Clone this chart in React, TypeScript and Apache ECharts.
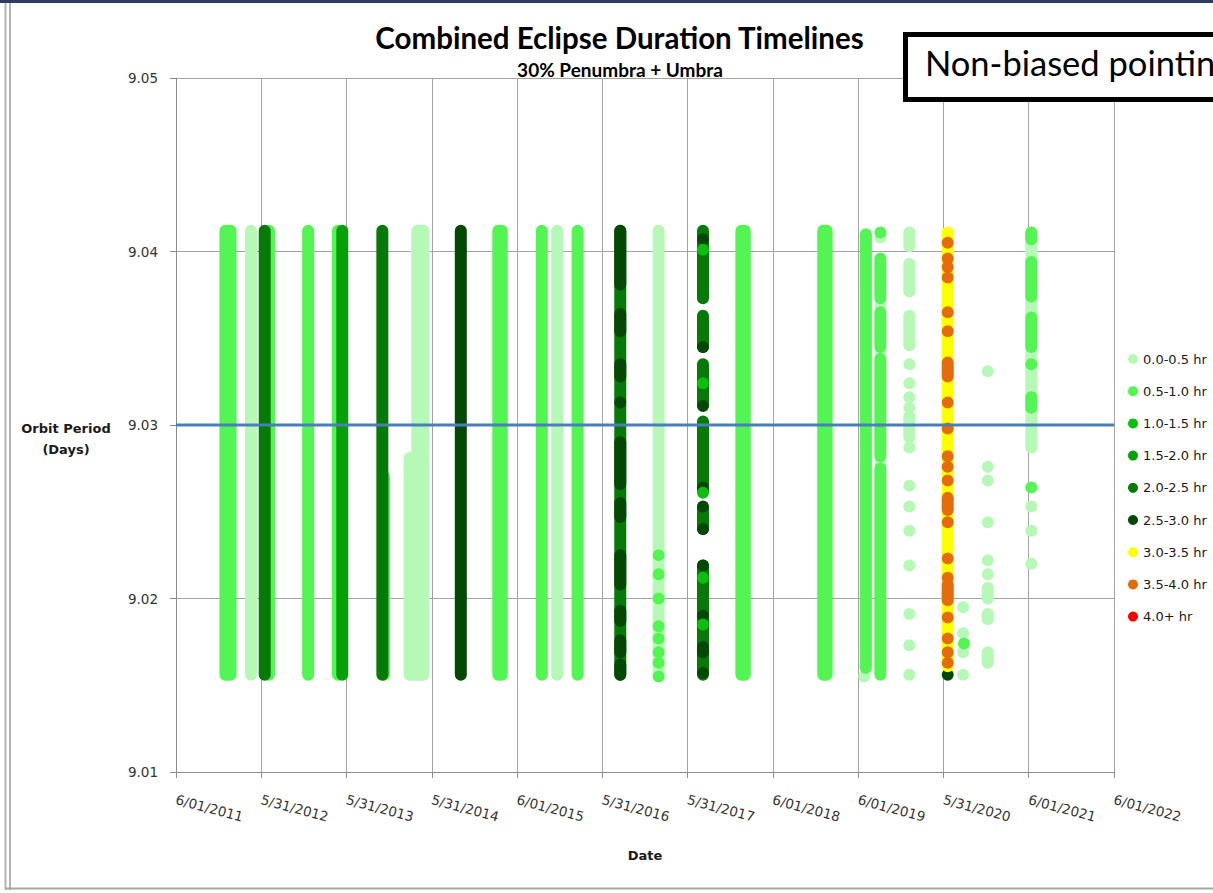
import React, { useEffect, useRef } from "react";
import * as echarts from "echarts";

// ---------- data ----------
const dateLabels = [
  "6/01/2011", "5/31/2012", "5/31/2013", "5/31/2014", "6/01/2015", "5/31/2016",
  "5/31/2017", "6/01/2018", "6/01/2019", "5/31/2020", "6/01/2021", "6/01/2022",
];
const categories = [
  "0.0-0.5 hr", "0.5-1.0 hr", "1.0-1.5 hr", "1.5-2.0 hr", "2.0-2.5 hr",
  "2.5-3.0 hr", "3.0-3.5 hr", "3.5-4.0 hr", "4.0+ hr",
];
const categoryColors = [
  "#b6f8b6", "#52f552", "#0cbf0c", "#08a008", "#067a06",
  "#034803", "#ffff00", "#e46c0a", "#ff0000",
];
const yMin = 9.01;
const yMax = 9.05;
const yStep = 0.01;
const xMin = 0;
const xMax = 11;
const nominalPeriod = 9.03;

const TOP = 9.0412;
const BOT = 9.0156;

// entries: [x, y] dot | [x, yLo, yHi] run | [x0, x1, yLo, yHi] wide run
// x in years after 6/01/2011
const hr00_05 = [
  [0.88, BOT, TOP],
  [2.83, 2.9, 9.0281, TOP],
  [2.74, 2.9, BOT, 9.0281],
  [4.47, BOT, TOP],
  [5.66, BOT, TOP],
  [8.07, 9.0155],
  [8.26, 9.0408], [8.26, 9.0369], [8.26, 9.0342], [8.26, 9.0278],
  [8.6, 9.0403, 9.0411], [8.6, 9.0377, 9.0393], [8.6, 9.0346, 9.0363],
  [8.6, 9.0335], [8.6, 9.0324], [8.6, 9.0316], [8.6, 9.031],
  [8.6, 9.0293, 9.0305], [8.6, 9.0287], [8.6, 9.0265], [8.6, 9.0253],
  [8.6, 9.0239], [8.6, 9.0219], [8.6, 9.0191], [8.6, 9.0173], [8.6, 9.0156],
  [9.23, 9.0195], [9.23, 9.018], [9.23, 9.0169], [9.23, 9.0156],
  [9.52, 9.0331], [9.52, 9.0276], [9.52, 9.0268], [9.52, 9.0244],
  [9.52, 9.0222], [9.52, 9.0214], [9.52, 9.02, 9.0206], [9.52, 9.0188, 9.0191],
  [9.52, 9.0163, 9.0169],
  [10.03, 9.0287, 9.0411], [10.03, 9.0253], [10.03, 9.0239], [10.03, 9.022],
];
const hr05_10 = [
  [0.58, 0.64, BOT, TOP],
  [1.09, BOT, TOP],
  [1.55, BOT, TOP],
  [1.9, BOT, TOP],
  [2.44, BOT, 9.027],
  [3.78, 3.82, BOT, TOP],
  [4.29, BOT, TOP],
  [4.71, BOT, TOP],
  [5.66, 9.0225], [5.66, 9.0214], [5.66, 9.02], [5.66, 9.0184],
  [5.66, 9.0177], [5.66, 9.0169], [5.66, 9.0163], [5.66, 9.0155],
  [6.63, 6.67, BOT, TOP],
  [7.59, 7.63, BOT, TOP],
  [8.09, 9.016, 9.041],
  [8.26, 9.0411], [8.26, 9.0373, 9.0396], [8.26, 9.0345, 9.0365],
  [8.26, 9.0282, 9.0338], [8.26, BOT, 9.0275],
  [9.24, 9.0174],
  [10.03, 9.0407, 9.0411], [10.03, 9.0374, 9.0394], [10.03, 9.0345, 9.0362],
  [10.03, 9.0335], [10.03, 9.031, 9.0316], [10.03, 9.0264],
];
const hr10_15 = [
  [6.18, 9.0401], [6.18, 9.0324], [6.18, 9.0261], [6.18, 9.0212], [6.18, 9.0185],
];
const hr15_20 = [
  [1.95, BOT, TOP],
];
const hr20_25 = [
  [1.04, BOT, TOP],
  [2.42, BOT, TOP],
  [5.21, BOT, TOP],
  [6.18, 9.0373, TOP], [6.18, 9.0345, 9.0363], [6.18, 9.0312, 9.0335],
  [6.18, 9.0262, 9.0302], [6.18, 9.024, 9.0252], [6.18, BOT, 9.0219],
];
const hr25_30 = [
  [3.34, BOT, TOP],
  [5.21, 9.0381, TOP], [5.21, 9.0354, 9.0364], [5.21, 9.0328, 9.0335],
  [5.21, 9.0313], [5.21, 9.0266, 9.029], [5.21, 9.0247, 9.0255],
  [5.21, 9.0208, 9.0225], [5.21, 9.0187, 9.0193], [5.21, 9.0169, 9.0176],
  [5.21, BOT, 9.0162],
  [6.18, 9.0407], [6.18, 9.0345], [6.18, 9.0311], [6.18, 9.0264], [6.18, 9.0253],
  [6.18, 9.024], [6.18, 9.0219], [6.18, 9.019], [6.18, 9.0169, 9.0172], [6.18, 9.0157],
  [9.05, 9.0156],
];
const hr30_35 = [
  [9.05, 9.0161, 9.0411],
];
const hr35_40 = [
  [9.05, 9.0405], [9.05, 9.0396], [9.05, 9.0391], [9.05, 9.0385], [9.05, 9.0365],
  [9.05, 9.0354], [9.05, 9.0328, 9.0336], [9.05, 9.0313], [9.05, 9.0298],
  [9.05, 9.0282], [9.05, 9.0276], [9.05, 9.0268], [9.05, 9.0251, 9.0258],
  [9.05, 9.0244], [9.05, 9.0223], [9.05, 9.0212], [9.05, 9.0199, 9.0208],
  [9.05, 9.0189], [9.05, 9.0177], [9.05, 9.0169], [9.05, 9.0163],
];
const hr40plus: number[][] = [];

const categoryData = [hr00_05, hr05_10, hr10_15, hr15_20, hr20_25, hr25_30, hr30_35, hr35_40, hr40plus];
// paint order (later on top)
const paintOrder = [0, 1, 3, 4, 5, 2, 6, 7, 8];

function toRun(e: number[]) {
  if (e.length === 2) return [e[0], e[0], e[1], e[1]];
  if (e.length === 3) return [e[0], e[0], e[1], e[2]];
  return e;
}

const DOT_R = 6;
const AXIS_FONT = "DejaVu Sans";

export default function App() {
  const ref = useRef<HTMLDivElement>(null);
  useEffect(() => {
    if (!ref.current) return;
    const chart = echarts.init(ref.current, undefined, { renderer: "svg" });

    const renderItem = (params: any, api: any) => {
      const a = api.coord([api.value(0), api.value(3)]);
      const b = api.coord([api.value(1), api.value(2)]);
      const x = Math.min(a[0], b[0]) - DOT_R;
      const y = Math.min(a[1], b[1]) - DOT_R;
      const w = Math.abs(b[0] - a[0]) + 2 * DOT_R;
      const h = Math.abs(b[1] - a[1]) + 2 * DOT_R;
      return {
        type: "rect",
        shape: { x, y, width: w, height: h, r: DOT_R },
        style: { fill: api.visual("color") },
      };
    };

    const series: any[] = paintOrder.map((ci) => ({
      type: "custom",
      name: categories[ci],
      renderItem,
      encode: { x: [0, 1], y: [2, 3] },
      itemStyle: { color: categoryColors[ci] },
      data: categoryData[ci].map(toRun),
      clip: false,
      silent: true,
    }));
    series.push({
      type: "line",
      name: "Nominal",
      data: [[xMin, nominalPeriod], [xMax, nominalPeriod]],
      symbol: "none",
      lineStyle: { color: "#4a7ebb", width: 3 },
      silent: true,
      z: 5,
    });

    chart.setOption({
      animation: false,
      backgroundColor: "#ffffff",
      grid: { left: 176, right: 99, top: 78, bottom: 121, containLabel: false },
      xAxis: {
        type: "value",
        min: xMin,
        max: xMax,
        interval: 1,
        axisLine: { show: true, lineStyle: { color: "#8c8c8c", width: 1 } },
        axisTick: { show: true, length: 6, lineStyle: { color: "#8c8c8c" } },
        splitLine: { show: true, lineStyle: { color: "#a3a3a3", width: 1 } },
        axisLabel: {
          rotate: -15,
          margin: 27,
          fontFamily: AXIS_FONT,
          fontSize: 13.5,
          color: "#333333",
          formatter: (v: number) => dateLabels[Math.round(v)] ?? "",
        },
      },
      yAxis: {
        type: "value",
        min: yMin,
        max: yMax,
        interval: yStep,
        axisLine: { show: true, lineStyle: { color: "#8c8c8c", width: 1 } },
        axisTick: { show: true, length: 6, lineStyle: { color: "#8c8c8c" } },
        splitLine: { show: true, lineStyle: { color: "#a3a3a3", width: 1 } },
        axisLabel: {
          margin: 18,
          fontFamily: AXIS_FONT,
          fontSize: 13.5,
          color: "#333333",
          formatter: (v: number) => v.toFixed(2),
        },
      },
      legend: {
        data: categories.map((c) => ({ name: c, icon: "circle" })),
        orient: "vertical",
        left: 1128,
        top: 352,
        padding: 0,
        itemWidth: 10,
        itemHeight: 10,
        itemGap: 18.2,
        textStyle: { fontFamily: AXIS_FONT, fontSize: 13, color: "#1a1a1a", lineHeight: 14 },
        selectedMode: false,
      },
      graphic: [
        { type: "rect", shape: { x: 0, y: 0, width: 1213, height: 3 }, style: { fill: "#2c3d63" } },
        { type: "line", shape: { x1: 5.5, y1: 3, x2: 5.5, y2: 890 }, style: { stroke: "#b4b4b4", lineWidth: 2 } },
        { type: "line", shape: { x1: 10, y1: 3, x2: 10, y2: 890 }, style: { stroke: "#9a9a9a", lineWidth: 1.5 } },
        { type: "line", shape: { x1: 5, y1: 888.5, x2: 1213, y2: 888.5 }, style: { stroke: "#a8a8a8", lineWidth: 2 } },
        {
          type: "text", x: 619.5, y: 37,
          style: { text: "Combined Eclipse Duration Timelines", font: "bold 29.5px Lato", fill: "#000", textAlign: "center", textVerticalAlign: "middle" },
        },
        {
          type: "text", x: 620, y: 69.5,
          style: { text: "30% Penumbra + Umbra", font: "bold 19px Lato", fill: "#000", textAlign: "center", textVerticalAlign: "middle" },
        },
        {
          type: "rect", shape: { x: 905.5, y: 34.5, width: 400, height: 65 },
          style: { fill: "#ffffff", stroke: "#000000", lineWidth: 5 }, z: 10,
        },
        {
          type: "text", x: 925, y: 62, z: 11,
          style: { text: "Non-biased pointing", font: "34.5px Lato", fill: "#000", textAlign: "left", textVerticalAlign: "middle" },
        },
        {
          type: "text", x: 66, y: 428,
          style: { text: "Orbit Period", font: `bold 13px "${AXIS_FONT}"`, fill: "#1a1a1a", textAlign: "center", textVerticalAlign: "middle" },
        },
        {
          type: "text", x: 66, y: 449,
          style: { text: "(Days)", font: `bold 13px "${AXIS_FONT}"`, fill: "#1a1a1a", textAlign: "center", textVerticalAlign: "middle" },
        },
        {
          type: "text", x: 645, y: 855,
          style: { text: "Date", font: `bold 13px "${AXIS_FONT}"`, fill: "#1a1a1a", textAlign: "center", textVerticalAlign: "middle" },
        },
      ],
      series,
    });
    return () => chart.dispose();
  }, []);
  return (
    <div
      ref={ref}
      style={{ position: "fixed", left: 0, top: 0, width: 1213, height: 893, background: "#fff" }}
    />
  );
}
